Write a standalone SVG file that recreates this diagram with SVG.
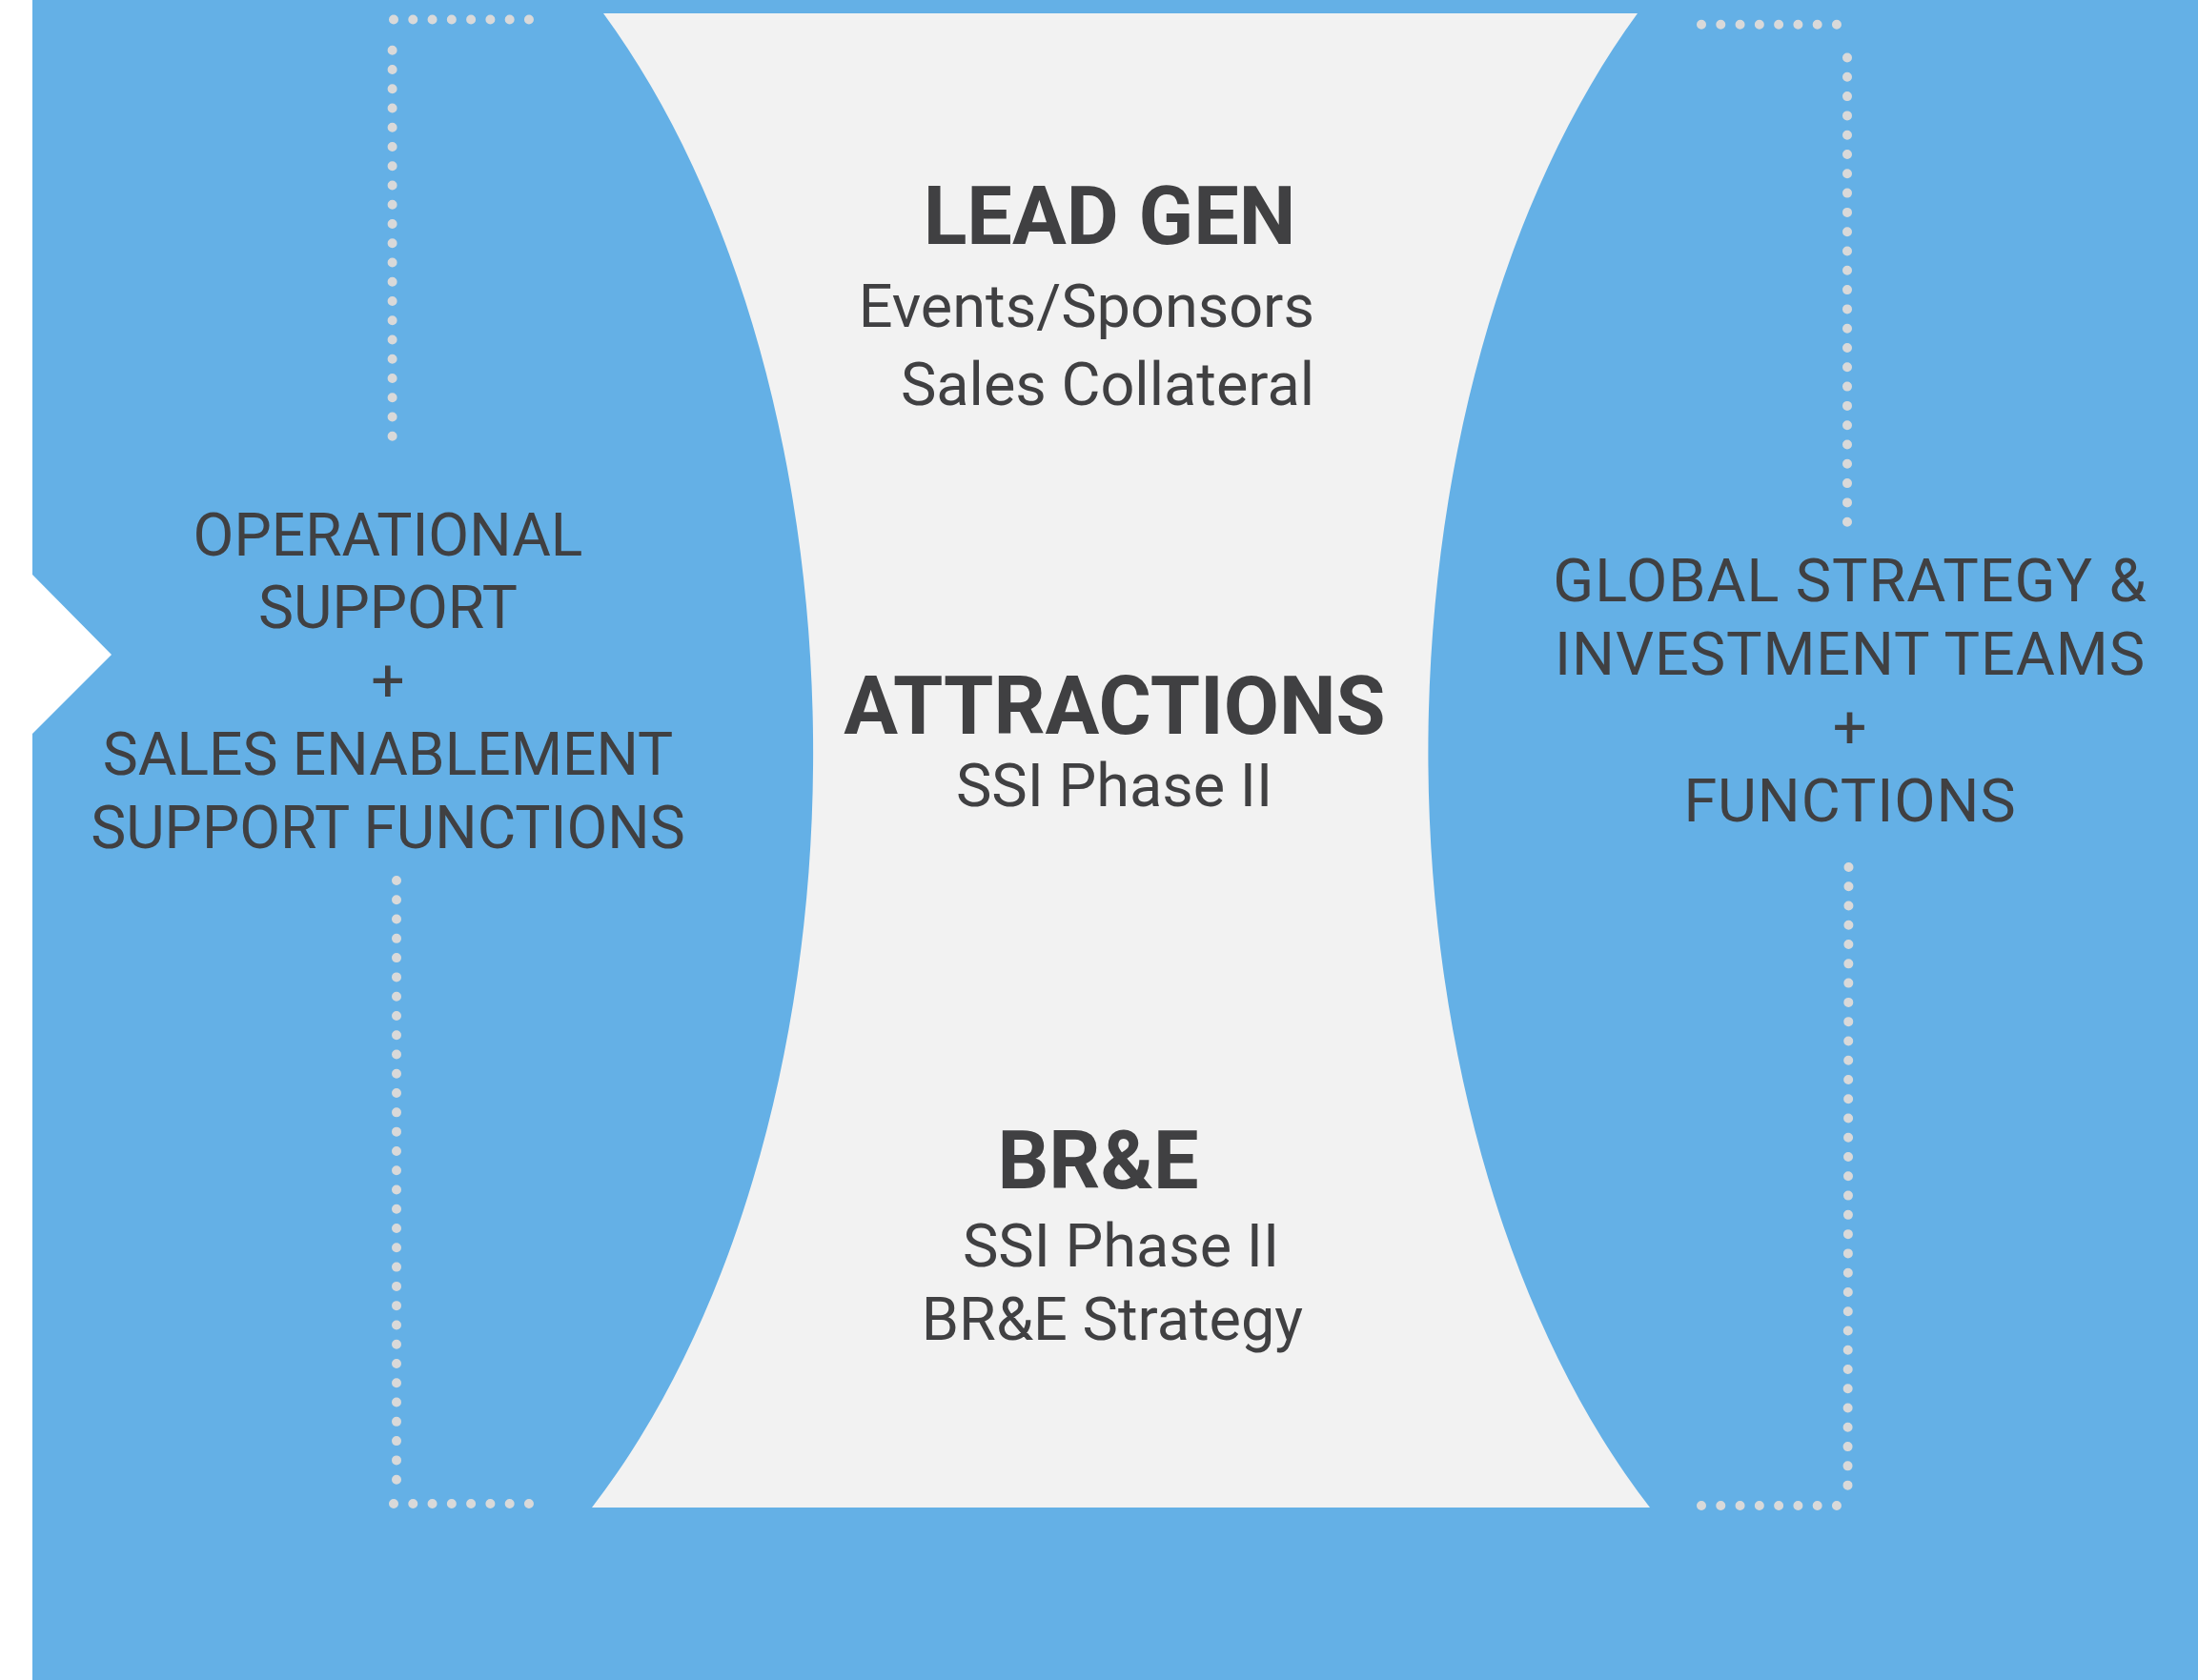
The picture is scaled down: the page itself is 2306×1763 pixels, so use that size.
<svg xmlns="http://www.w3.org/2000/svg" width="2306" height="1763" viewBox="0 0 2306 1763">
  <style>
    .bg { fill: #64b0e6; }
    .funnel { fill: #f2f2f2; }
    .dots { fill: none; stroke: #d9d9d9; stroke-width: 10; stroke-linecap: round; }
    .side { font-family: Roboto, "Liberation Sans", sans-serif; font-size: 62.3px; fill: #404042; text-anchor: middle; }
    .side-r { letter-spacing: 0.9px; font-size: 63px; }
    .head { font-family: Roboto, "Liberation Sans", sans-serif; font-size: 84.5px; font-weight: bold; fill: #404042; text-anchor: middle; }
    .item { font-family: Roboto, "Liberation Sans", sans-serif; font-size: 63px; fill: #404042; text-anchor: middle; }
  </style>

  <rect x="0" y="0" width="2306" height="1763" fill="#ffffff"/>
  <!-- blue panel with a chevron notch on the left edge -->
  <path class="bg" d="M34 0 H2306 V1763 H34 V770 L117 687 L34 603 Z"/>

  <!-- central hourglass funnel -->
  <g id="funnel">
    <path class="funnel" d="M633 14 L1718 14 A596 1000 0 0 0 1731 1582 L621 1582 A596 1000 0 0 0 633 14 Z"/>
  </g>

  <!-- dotted brackets: zero-length dashes with round caps give the dots -->
  <g id="connectors">
    <line class="dots" x1="413" y1="20.5" x2="555.5" y2="20.5" stroke-dasharray="0 20.28"/>
    <line class="dots" x1="411.6" y1="52.7" x2="411.6" y2="458.5" stroke-dasharray="0 20.25"/>
    <line class="dots" x1="416" y1="924" x2="416" y2="1553.5" stroke-dasharray="0 20.28"/>
    <line class="dots" x1="413" y1="1578" x2="555.5" y2="1578" stroke-dasharray="0 20.28"/>
    <line class="dots" x1="1785" y1="25.7" x2="1927.5" y2="25.7" stroke-dasharray="0 20.28"/>
    <line class="dots" x1="1938" y1="60.5" x2="1938" y2="548.5" stroke-dasharray="0 20.3"/>
    <line class="dots" x1="1939.5" y1="910" x2="1938.5" y2="1559.5" stroke-dasharray="0 20.27"/>
    <line class="dots" x1="1785" y1="1580" x2="1927.5" y2="1580" stroke-dasharray="0 20.28"/>
  </g>

  <g id="operational-support">
    <text class="side" x="407" y="583">OPERATIONAL</text>
    <text class="side" x="407" y="659">SUPPORT</text>
    <text class="side" x="407" y="736">+</text>
    <text class="side" x="407" y="813">SALES ENABLEMENT</text>
    <text class="side" x="407" y="890">SUPPORT FUNCTIONS</text>
  </g>

  <g id="global-strategy">
    <text class="side side-r" x="1941" y="631">GLOBAL STRATEGY &amp;</text>
    <text class="side side-r" x="1941" y="708">INVESTMENT TEAMS</text>
    <text class="side side-r" x="1941" y="785">+</text>
    <text class="side side-r" x="1941" y="862">FUNCTIONS</text>
  </g>

  <g id="lead-gen">
    <text class="head" x="1164" y="256">LEAD GEN</text>
    <text class="item" x="1379" y="343" style="text-anchor:end">Events/Sponsors</text>
    <text class="item" x="1379" y="425" style="text-anchor:end">Sales Collateral</text>
  </g>

  <g id="attractions">
    <text class="head" x="1169.5" y="770">ATTRACTIONS</text>
    <text class="item" x="1169" y="846">SSI Phase II</text>
  </g>

  <g id="bre">
    <text class="head" x="1152" y="1247">BR&amp;E</text>
    <text class="item" x="1176" y="1329">SSI Phase II</text>
    <text class="item" x="1167" y="1406">BR&amp;E Strategy</text>
  </g>
</svg>
